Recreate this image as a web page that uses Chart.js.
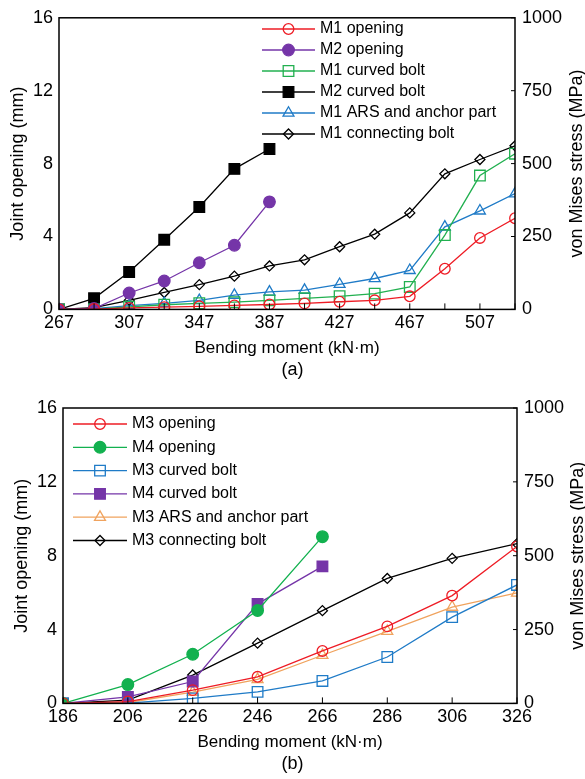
<!DOCTYPE html>
<html>
<head>
<meta charset="utf-8">
<script src="https://cdn.jsdelivr.net/npm/chart.js@4.4.1/dist/chart.umd.min.js"></script>
<style>
  body { margin: 0; background: #fff; }
  .box { position: absolute; left: 0; width: 585px; }
</style>
</head>
<body>
<div class="box" style="top:0;height:385px"><canvas id="chartA"></canvas></div>
<div class="box" style="top:390px;height:389px"><canvas id="chartB"></canvas></div>
<script>
// ---- data (a) ----
const momentA = [267, 287, 307, 327, 347, 367, 387, 407, 427, 447, 467, 487, 507, 527];
const m1Opening = [0, 0.02, 0.08, 0.12, 0.17, 0.22, 0.27, 0.33, 0.42, 0.5, 0.72, 2.23, 3.92, 5.0];   // mm
const m2Opening = [0, 0.05, 0.9, 1.56, 2.56, 3.52, 5.9];                                               // mm
const m1CurvedBolt = [0, 1, 9, 16, 21, 25, 31, 38, 45, 54, 77, 255, 459, 534];                        // MPa
const m2CurvedBolt = [0, 38, 128, 239, 351, 482, 550];                                                 // MPa
const m1Ars = [0, 3, 13, 21, 31, 49, 60, 66, 86, 106, 134, 283, 338, 397];                            // MPa
const m1ConnBolt = [0, 6, 31, 58, 85, 114, 149, 170, 215, 258, 331, 465, 514, 561];                   // MPa

// ---- data (b) ----
const momentB = [186, 206, 226, 246, 266, 286, 306, 326];
const m3Opening = [0, 0.1, 0.72, 1.44, 2.84, 4.17, 5.84, 8.5];   // mm
const m4Opening = [0, 1.02, 2.66, 5.03, 9.03];                   // mm
const m3CurvedBolt = [0, 1, 17, 39, 76, 157, 292, 401];          // MPa
const m4CurvedBolt = [0, 22, 74, 337, 464];                      // MPa
const m3Ars = [0, 3, 38, 81, 163, 244, 326, 374];                // MPa
const m3ConnBolt = [0, 11, 96, 204, 314, 423, 491, 541];         // MPa

const openTicks = [0, 16, 4];      // min, max, step
const stressTicks = [0, 1000, 250];

const FONT = '"Liberation Sans", Arial, sans-serif';
Chart.defaults.font.family = FONT;
Chart.defaults.font.size = 18;
Chart.defaults.color = '#000';

const pts = (xs, ys) => ys.map((y, i) => ({ x: xs[i], y: y }));

function series(label, xs, ys, axis, color, style, radius, filled) {
  return {
    label: label,
    data: pts(xs, ys),
    yAxisID: axis,
    borderColor: color,
    backgroundColor: filled ? color : '#fff',
    borderWidth: 1.3,
    pointStyle: style,
    pointRadius: radius,
    pointBorderWidth: 1.3,
    pointBackgroundColor: filled ? color : 'rgba(255,255,255,0)',
    pointBorderColor: color,
    tension: 0
  };
}

function marker(ctx, ds, x, y) {
  const o = { pointStyle: ds.pointStyle, rotation: 0, radius: ds.pointRadius, borderWidth: ds.pointBorderWidth };
  ctx.fillStyle = ds.pointBackgroundColor;
  ctx.strokeStyle = ds.pointBorderColor;
  ctx.lineWidth = ds.pointBorderWidth;
  Chart.helpers.drawPoint(ctx, o, x, y);
}

// frame, inward ticks, rotated right title, legend inside plot
const extras = {
  id: 'extras',
  afterDatasetsDraw(chart, args, opts) {
    const ctx = chart.ctx, a = chart.chartArea, sx = chart.scales.x, sr = chart.scales.y1;
    ctx.save();
    ctx.strokeStyle = '#000';
    ctx.lineWidth = 1;
    sx.ticks.forEach(t => {
      const px = sx.getPixelForValue(t.value);
      ctx.beginPath(); ctx.moveTo(px, a.bottom); ctx.lineTo(px, a.bottom - 6); ctx.stroke();
    });
    sr.ticks.forEach(t => {
      const py = sr.getPixelForValue(t.value);
      ctx.beginPath(); ctx.moveTo(a.right - 4, py); ctx.lineTo(a.right, py); ctx.stroke();
    });
    ctx.lineWidth = 1.5;
    ctx.strokeRect(a.left, a.top, a.right - a.left, a.bottom - a.top);

    ctx.fillStyle = '#000';
    ctx.font = '18px ' + FONT;
    ctx.textAlign = 'center';
    ctx.textBaseline = 'middle';
    ctx.translate(opts.rightTitleX, (a.top + a.bottom) / 2);
    ctx.rotate(-Math.PI / 2);
    ctx.fillText('von Mises stress (MPa)', 0, 0);
    ctx.restore();

    ctx.save();
    const lg = opts.legend;
    ctx.font = '16px ' + FONT;
    ctx.textBaseline = 'middle';
    chart.data.datasets.forEach((ds, i) => {
      const y = lg.y + i * lg.gap;
      ctx.strokeStyle = ds.borderColor;
      ctx.lineWidth = ds.borderWidth;
      ctx.beginPath(); ctx.moveTo(lg.x, y); ctx.lineTo(lg.x + lg.len, y); ctx.stroke();
      marker(ctx, ds, lg.x + lg.len / 2, y);
      ctx.fillStyle = '#000';
      ctx.textAlign = 'left';
      ctx.fillText(ds.label, lg.x + lg.len + 5, y);
    });
    ctx.restore();
  }
};

function makeOptions(cfg) {
  return {
    responsive: true,
    maintainAspectRatio: false,
    animation: false,
    layout: { padding: { top: cfg.top, bottom: 0, left: 0, right: 0 } },
    plugins: {
      legend: { display: false },
      tooltip: { enabled: false },
      title: {
        display: true, position: 'bottom', text: cfg.tag,
        font: { size: 18, weight: 'normal' }, color: '#000',
        padding: { top: 1, bottom: 4 }
      },
      extras: { rightTitleX: cfg.rightTitleX, legend: cfg.legend }
    },
    scales: {
      x: {
        type: 'linear', min: cfg.xMin, max: cfg.xMax,
        grid: { display: false, drawTicks: false },
        border: { display: false },
        ticks: {
          stepSize: 20, autoSkip: false, maxRotation: 0, padding: 3,
          callback: v => ((v - cfg.xMin) % cfg.labelStep === 0 ? String(v) : '')
        },
        title: { display: true, text: 'Bending moment (kN·m)', font: { size: 17 }, padding: { top: 2, bottom: 0 } },
        afterFit: s => { s.height = 49; }
      },
      y: {
        position: 'left', min: openTicks[0], max: openTicks[1],
        grid: { display: false, drawTicks: false },
        border: { display: false },
        ticks: { stepSize: openTicks[2], padding: 6, callback: v => String(v) },
        title: { display: true, text: 'Joint opening (mm)', font: { size: 18 }, padding: { top: cfg.leftTitlePad, bottom: 0 } },
        afterFit: s => { s.width = cfg.leftW; }
      },
      y1: {
        position: 'right', min: stressTicks[0], max: stressTicks[1],
        grid: { display: false, drawTicks: false },
        border: { display: false },
        ticks: { stepSize: stressTicks[2], padding: 7, callback: v => String(v) },
        afterFit: s => { s.width = cfg.rightW; }
      }
    }
  };
}

new Chart(document.getElementById('chartA'), {
  type: 'line',
  data: {
    datasets: [
      series('M1 opening', momentA, m1Opening, 'y', '#ee1c25', 'circle', 5.3, false),
      series('M2 opening', momentA, m2Opening, 'y', '#7535a8', 'circle', 5.8, true),
      series('M1 curved bolt', momentA, m1CurvedBolt, 'y1', '#22b050', 'rect', 7.5, false),
      series('M2 curved bolt', momentA, m2CurvedBolt, 'y1', '#000000', 'rect', 7.5, true),
      series('M1 ARS and anchor part', momentA, m1Ars, 'y1', '#1f7bc7', 'triangle', 6.3, false),
      series('M1 connecting bolt', momentA, m1ConnBolt, 'y1', '#000000', 'rectRot', 5, false)
    ]
  },
  options: makeOptions({
    top: 17, tag: '(a)', xMin: 267, xMax: 527, labelStep: 40,
    leftW: 59, rightW: 70, leftTitlePad: 7, rightTitleX: 577,
    legend: { x: 262, y: 29, gap: 21, len: 53 }
  }),
  plugins: [extras]
});

new Chart(document.getElementById('chartB'), {
  type: 'line',
  data: {
    datasets: [
      series('M3 opening', momentB, m3Opening, 'y', '#ee1c25', 'circle', 5.3, false),
      series('M4 opening', momentB, m4Opening, 'y', '#12b14f', 'circle', 5.8, true),
      series('M3 curved bolt', momentB, m3CurvedBolt, 'y1', '#1f7bc7', 'rect', 7.5, false),
      series('M4 curved bolt', momentB, m4CurvedBolt, 'y1', '#7535a8', 'rect', 7.5, true),
      series('M3 ARS and anchor part', momentB, m3Ars, 'y1', '#f0a35e', 'triangle', 6.3, false),
      series('M3 connecting bolt', momentB, m3ConnBolt, 'y1', '#000000', 'rectRot', 5, false)
    ]
  },
  options: makeOptions({
    top: 18, tag: '(b)', xMin: 186, xMax: 326, labelStep: 20,
    leftW: 63, rightW: 68, leftTitlePad: 11, rightTitleX: 578,
    legend: { x: 73, y: 34, gap: 23.3, len: 54 }
  }),
  plugins: [extras]
});
</script>
</body>
</html>
